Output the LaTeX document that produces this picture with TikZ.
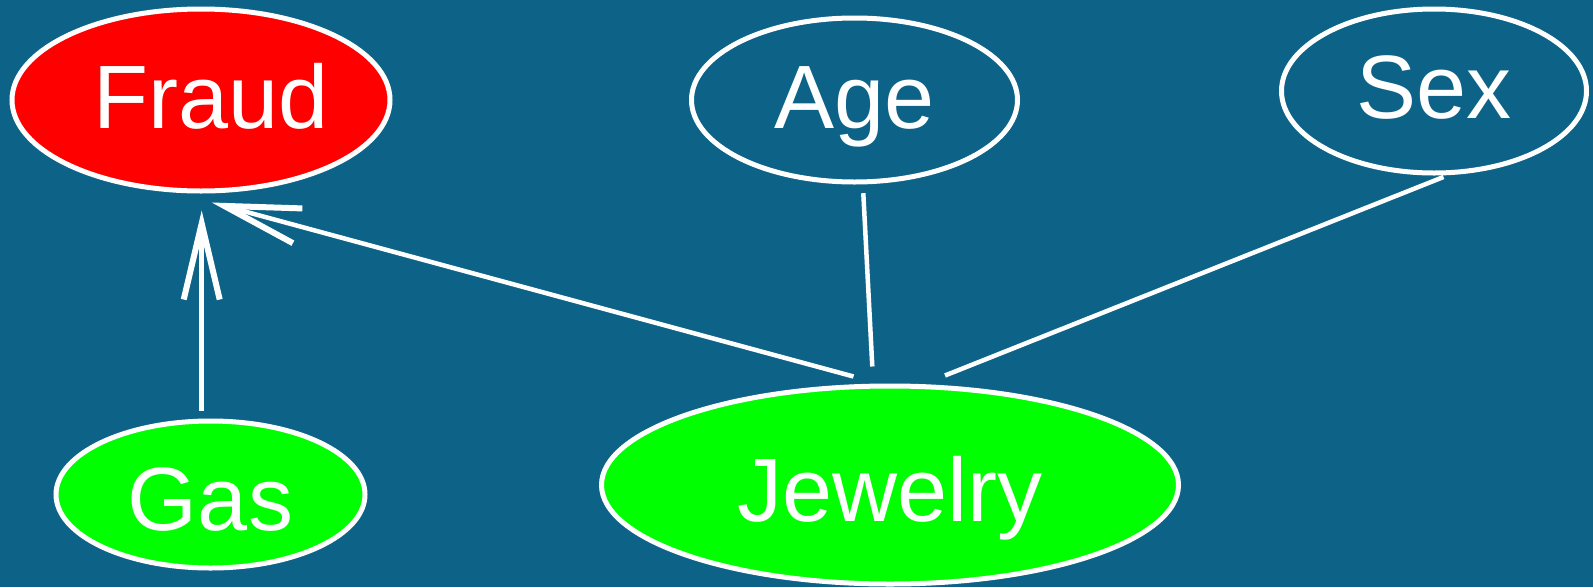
\documentclass[tikz,border=0pt]{standalone}
\usepackage{fontspec}
\setmainfont{Liberation Sans}
\usetikzlibrary{shapes.geometric,arrows.meta}
\definecolor{bgblue}{RGB}{12,99,135}
\definecolor{fraudred}{RGB}{255,0,0}
\definecolor{leafgreen}{RGB}{0,255,0}
\tikzset{
  varnode/.style={ellipse, draw=white, line width=5pt, inner sep=0pt,
    text=white, font=\fontsize{90}{90}\selectfont, text depth=0pt},
  link/.style={draw=white, line width=4.5pt},
  arr/.style={link, -{Straight Barb[length=76pt,width=36pt,sharp,line width=6pt]}}
}
\begin{document}
\begin{tikzpicture}[x=1pt,y=-1pt]
\fill[bgblue] (0,0) rectangle (1593,587);
\useasboundingbox (0,0) rectangle (1593,587);

\node[varnode, fill=fraudred, minimum width=378pt, minimum height=182pt, text height=56pt] (fraud) at (201,100) {\hspace*{20pt}Fraud};
\node[varnode, minimum width=326pt, minimum height=164pt, text height=56pt] (age) at (854.5,100) {Age};
\node[varnode, minimum width=305pt, minimum height=164pt, text height=54pt] (sex) at (1434,91) {Sex};
\node[varnode, fill=leafgreen, minimum width=309pt, minimum height=147pt, text height=71pt] (gas) at (210.5,494.5) {Gas};
\node[varnode, fill=leafgreen, minimum width=577pt, minimum height=198pt, text height=72pt] (jewelry) at (890,485) {Jewelry};

\draw[arr] ([shift={(-8.8,-8)}]gas.north) -- ([shift={(0.7,17)}]fraud.south);
\draw[arr] ([shift={(-36.5,-7)}]jewelry.north) -- ([shift={(10.7,9)}]fraud.south);
\draw[link] ([shift={(8.8,8.7)}]age.south) -- ([shift={(-17.7,-17)}]jewelry.north);
\draw[link] ([shift={(9.5,1.5)}]sex.south) -- ([shift={(55,-8)}]jewelry.north);
\end{tikzpicture}
\end{document}
